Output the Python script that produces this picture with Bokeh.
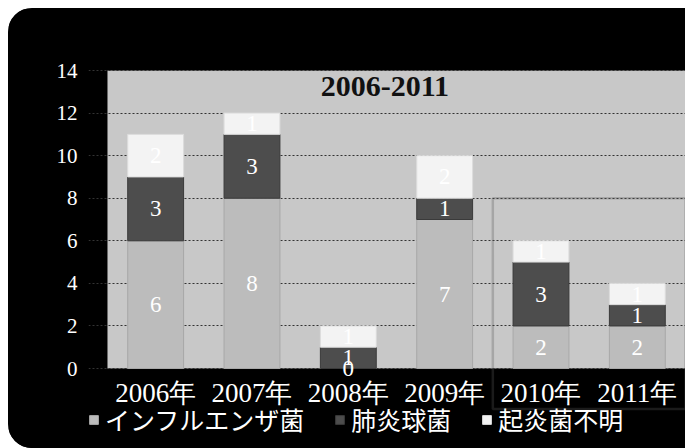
from bokeh.plotting import figure
from bokeh.models import (ColumnDataSource, Range1d, Legend, LegendItem,
                          LabelSet, BoxAnnotation, Label, FixedTicker)
from bokeh.embed import file_html
from bokeh.resources import INLINE

# ---- data ----
years = ["2006年", "2007年", "2008年", "2009年", "2010年", "2011年"]
series_names = ["インフルエンザ菌", "肺炎球菌", "起炎菌不明"]
influenza = [6, 8, 0, 7, 2, 2]
pneumococcus = [3, 3, 1, 1, 3, 1]
unknown = [2, 1, 1, 2, 1, 1]
y_ticks = [0, 2, 4, 6, 8, 10, 12, 14]
title_text = "2006-2011"

fills = ["#bcbcbc", "#4d4d4d", "#f3f3f3"]
lines = ["#a8a8a8", "#3a3a3a", "#dcdcdc"]

# category slot centres on a numeric axis (slot i spans i..i+1)
xpos = [i + 0.5 for i in range(len(years))]
src = ColumnDataSource(dict(x=xpos, inf=influenza, pne=pneumococcus, unk=unknown))

p = figure(x_range=Range1d(-0.197, len(years)), y_range=Range1d(-3.758, 15.034),
           width=677, height=440, output_backend="svg", toolbar_location=None,
           x_axis_location="above",
           min_border_left=80, min_border_right=0, min_border_top=40, min_border_bottom=0,
           background_fill_color="black", border_fill_color="black",
           outline_line_color=None)
p.styles = {"margin-left": "8px", "margin-top": "8px", "background-color": "black",
            "border-radius": "24px 0 0 24px", "overflow": "hidden"}

# gray plot panel behind the bars
p.quad(left=[0], right=[len(years)], bottom=[y_ticks[0]], top=[y_ticks[-1]],
       fill_color="#c8c8c8", line_color=None, level="image")

renderers = p.vbar_stack(["inf", "pne", "unk"], x="x", width=0.58, source=src,
                         fill_color=fills, line_color=lines, line_width=1)

# data labels
lx, ly, lt = [], [], []
for i, xc in enumerate(xpos):
    base = 0
    for arr in (influenza, pneumococcus, unknown):
        v = arr[i]
        lx.append(xc)
        ly.append(base + v / 2)
        lt.append(str(v))
        base += v
lab_src = ColumnDataSource(dict(x=lx, y=ly, t=lt))
p.add_layout(LabelSet(x="x", y="y", text="t", source=lab_src, text_align="center",
                      text_baseline="middle", text_color="white",
                      text_font="Liberation Serif", text_font_size="23px"))

# title inside plot
p.add_layout(Label(x=2.88, y=13.25, text=title_text, text_align="center",
                   text_baseline="middle", text_font="Liberation Serif",
                   text_font_size="30px", text_font_style="bold", text_color="#111111"))

# highlight box around the last two years
p.add_layout(BoxAnnotation(left=4, right=6, top=8, bottom=-1.9, fill_alpha=0,
                           line_color="#5a5a5a", line_width=2.5))

# y axis
p.yaxis.ticker = FixedTicker(ticks=y_ticks)
p.yaxis.major_tick_line_color = None
p.yaxis.minor_tick_line_color = None
p.yaxis.axis_line_color = None
p.yaxis.major_label_text_color = "white"
p.yaxis.major_label_text_font = "Liberation Serif"
p.yaxis.major_label_text_font_size = "21px"
p.yaxis.major_label_standoff = 5

# x axis: category labels drawn just under the panel
p.xaxis.fixed_location = -2.15
p.xaxis.ticker = FixedTicker(ticks=xpos)
p.xaxis.major_label_overrides = {xc: y for xc, y in zip(xpos, years)}
p.xaxis.major_tick_line_color = None
p.xaxis.minor_tick_line_color = None
p.xaxis.axis_line_color = None
p.xaxis.major_label_text_color = "white"
p.xaxis.major_label_text_font = "Liberation Serif"
p.xaxis.major_label_text_font_size = "27px"
p.xaxis.major_label_standoff = 0

p.xgrid.grid_line_color = None
p.ygrid.ticker = FixedTicker(ticks=y_ticks)
p.ygrid.grid_line_color = "#333333"
p.ygrid.grid_line_dash = "2 2"
p.ygrid.grid_line_width = 1

legend = Legend(items=[LegendItem(label=n, renderers=[r]) for n, r in zip(series_names, renderers)],
                orientation="horizontal", location=(0, 11),
                background_fill_alpha=0, border_line_color=None,
                label_text_color="white", label_text_font="Noto Sans CJK JP",
                label_text_font_size="25px", glyph_width=11, glyph_height=11,
                spacing=30, padding=0, margin=0, label_standoff=6)
p.add_layout(legend, "center")

open("out.html", "w").write(file_html(p, INLINE))
